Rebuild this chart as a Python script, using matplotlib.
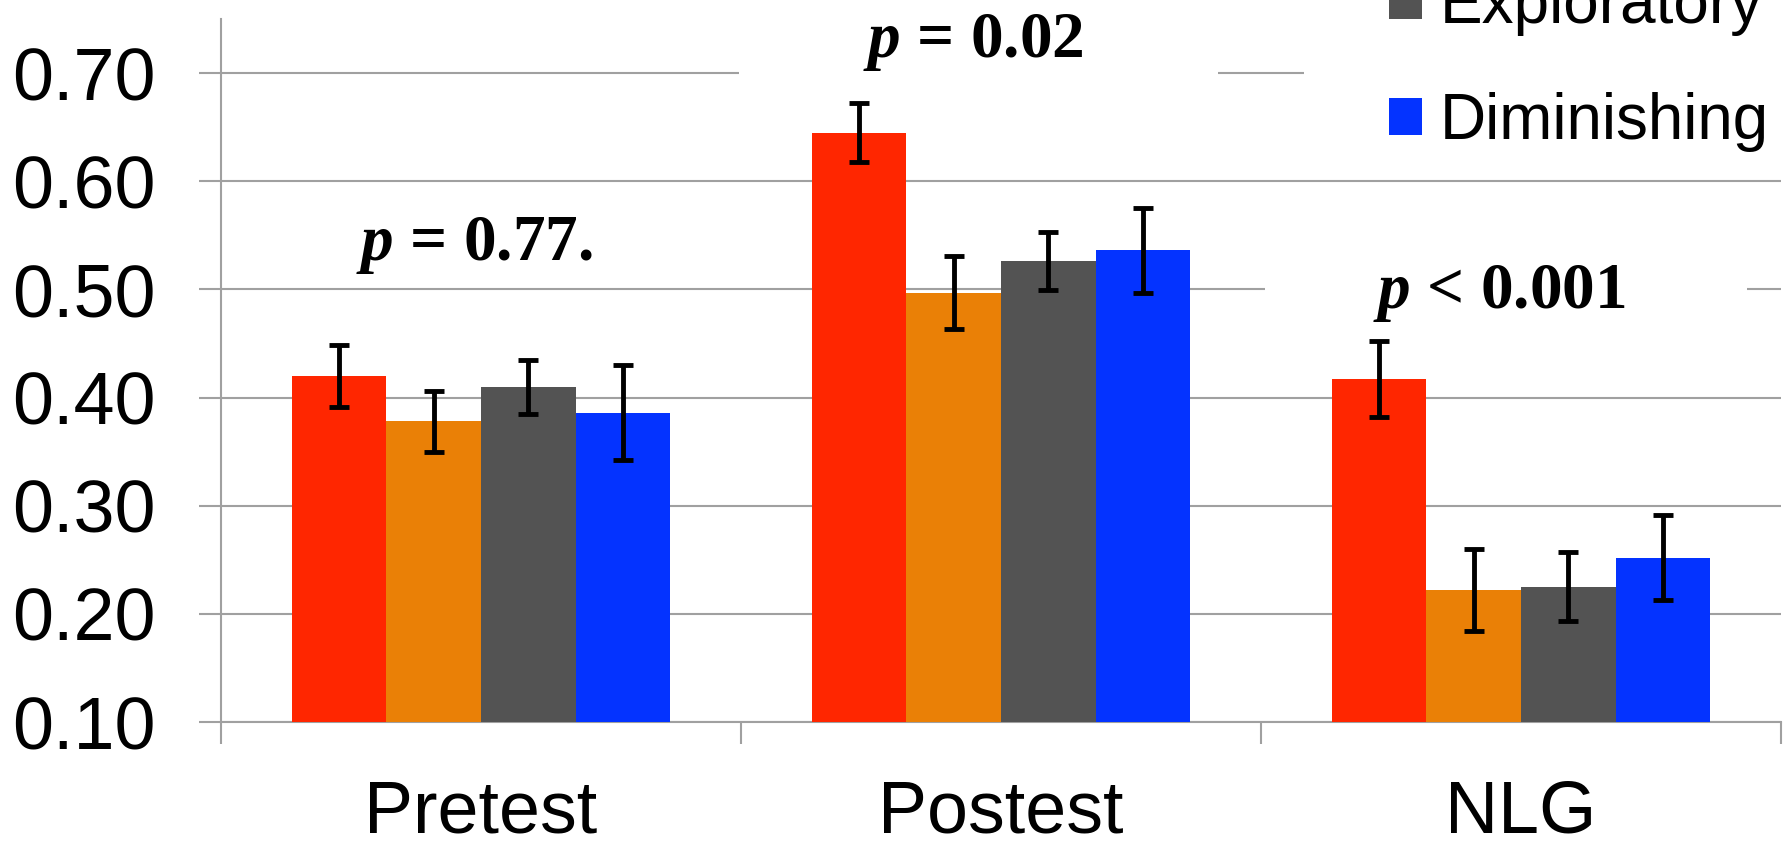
import matplotlib
matplotlib.use("Agg")
import matplotlib.pyplot as plt
from matplotlib.patches import Rectangle
import numpy as np

plt.rcParams['font.family'] = ['Liberation Sans', 'DejaVu Sans']
plt.rcParams['mathtext.fontset'] = 'custom'
plt.rcParams['mathtext.bfit'] = 'Liberation Serif:italic:bold'
plt.rcParams['mathtext.it'] = 'Liberation Serif:italic'
plt.rcParams['mathtext.rm'] = 'Liberation Serif'
plt.rcParams['mathtext.bf'] = 'Liberation Serif:bold'

# ---------------- data ----------------
categories = ["Pretest", "Postest", "NLG"]
series_colors = ["#FF2600", "#EA8006", "#535353", "#0433FF"]
legend_labels = {2: "Exploratory", 3: "Diminishing"}  # only these entries are visible

means = [
    [0.420, 0.645, 0.417],   # red series
    [0.378, 0.497, 0.222],   # orange series
    [0.410, 0.526, 0.225],   # gray  (Exploratory)
    [0.386, 0.536, 0.252],   # blue  (Diminishing)
]
errors = [
    [0.029, 0.027, 0.035],
    [0.028, 0.034, 0.038],
    [0.025, 0.027, 0.032],
    [0.044, 0.039, 0.039],
]
p_texts = [r"$\mathbfit{p}$ = 0.77.", r"$\mathbfit{p}$ = 0.02", r"$\mathbfit{p}$ < 0.001"]
p_y = [0.527, 0.7146, 0.4826]
p_xoff = [-0.012, -0.054, -0.042]
yticks = [0.10, 0.20, 0.30, 0.40, 0.50, 0.60, 0.70]

# ---------------- figure ----------------
W, H = 1788, 846
fig = plt.figure(figsize=(W / 100, H / 100), dpi=100)
ax = fig.add_axes([221 / W, 124 / H, 1560 / W, 703 / H])

grid_col = "#A0A0A0"
bar_w = 0.182
centers = np.arange(len(categories)) + 0.5
handles = {}
for i, (m, e, c) in enumerate(zip(means, errors, series_colors)):
    xs = centers + (i - 1.5) * bar_w
    b = ax.bar(xs, m, width=bar_w, bottom=0, color=c, zorder=3, linewidth=0)
    ax.errorbar(xs, m, yerr=e, fmt="none", ecolor="black", elinewidth=3.5,
                capsize=7, capthick=3.5, zorder=4)
    handles[i] = b

ax.set_xlim(0, 3)
ax.set_ylim(0.10, 0.75)

# y axis
ax.set_yticks(yticks)
ax.set_yticklabels([f"{v:.2f}" for v in yticks])
ax.yaxis.grid(True, color=grid_col, linewidth=1.5, zorder=0)
ax.set_axisbelow(True)
ax.tick_params(axis="y", length=16, width=1.5, color=grid_col, pad=31,
               labelsize=53)

# x axis: separator ticks at boundaries, labels at centers
ax.set_xticks([0, 1, 2, 3])
ax.set_xticklabels([])
ax.set_xticks(centers, minor=True)
ax.set_xticklabels(categories, minor=True)
ax.tick_params(axis="x", which="major", length=16, width=1.5, color=grid_col)
ax.tick_params(axis="x", which="minor", length=0, pad=41, labelsize=53)

for s in ["top", "right"]:
    ax.spines[s].set_visible(False)
for s in ["left", "bottom"]:
    ax.spines[s].set_color(grid_col)
    ax.spines[s].set_linewidth(1.5)

# white boxes behind p-value labels and legend
boxes = [(0.019, 0.51, 0.923, 0.07), (0.996, 0.69, 0.921, 0.07),
         (2.008, 0.465, 0.927, 0.07), (2.083, 0.69, 0.917, 0.07)]
for (x0, y0, w, h) in boxes:
    ax.add_patch(Rectangle((x0, y0), w, h, facecolor="white", edgecolor="none",
                           zorder=1.5))

for k, (t, y, dx) in enumerate(zip(p_texts, p_y, p_xoff)):
    ax.text(centers[k] + dx, y, t, ha="center", va="baseline", fontsize=47,
            family="Liberation Serif", weight="bold", zorder=5)

leg = ax.legend([handles[2], handles[3]], [legend_labels[2], legend_labels[3]],
                loc="upper left", bbox_to_anchor=(1389 / W, 1 + 24 / H),
                bbox_transform=fig.transFigure, frameon=False, fontsize=46,
                handlelength=0.52, handleheight=0.52, handletextpad=0.28,
                labelspacing=0.88, borderpad=0, borderaxespad=0)

fig.savefig("out.png", dpi=100)
